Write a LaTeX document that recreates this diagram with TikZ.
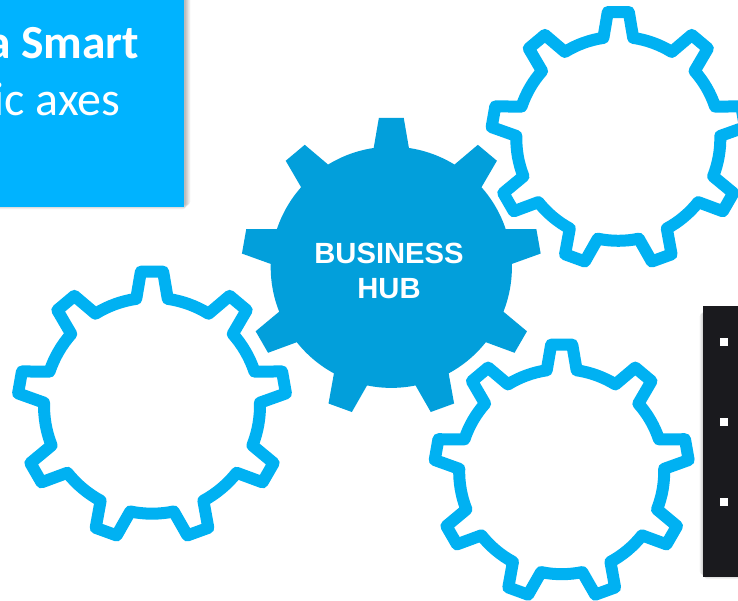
\documentclass[tikz,border=0pt]{standalone}
\usepackage{fontspec}
\setmainfont{Carlito}
\newfontfamily\hubfont{Liberation Sans}
\definecolor{gearline}{HTML}{00B1F2}
\definecolor{gearsolid}{HTML}{029FDB}
\definecolor{panelblue}{HTML}{00B3FF}
\definecolor{paneldark}{HTML}{1A1A1E}
% nine-tooth gear outline: #1 root radius, #2 tip radius
\newcommand\gearoutline[2]{(98.4:#1pt)
  \foreach \t in {90,50,...,-230} {
    -- (\t+4.75:#2pt) -- (\t-4.75:#2pt) -- (\t-8.4:#1pt)
    arc[start angle=\t-8.4,end angle=\t-31.6,radius=#1pt]
  } -- cycle}
\newcommand\softshadow[4]{%
  \foreach \g in {0,1,...,6}
    \fill[black,opacity=0.045,rounded corners=3pt]
      ({#1-\g*0.8+1.5},{#2+\g*0.8-2.5}) rectangle ({#3+\g*0.8+1.5},{#4-\g*0.8-2.5});}
\tikzset{
  hollowgear/.style={draw=gearline,line width=12pt,line join=round,fill=white},
  solidgear/.style={fill=gearsolid},
  hubtext/.style={text=white,font=\hubfont\bfseries\fontsize{29.2}{35.4}\selectfont,align=center,inner sep=0pt},
  paneltext/.style={text=white,inner sep=0pt,anchor=base east},
  squarebullet/.style={fill=white,draw=none,minimum size=8pt,inner sep=0pt}
}
\begin{document}
\begin{tikzpicture}[x=1pt,y=1pt]
\useasboundingbox (0,0) rectangle (738,601);
\begin{scope}
\clip (0,0) rectangle (738,601);
% blue panel
\softshadow{-20}{394}{184}{620}
\fill[panelblue] (-20,394) rectangle (184,620);
\node[paneltext,font=\bfseries\fontsize{47.5}{47.5}\selectfont] (smart) at (139.5,542.5) {a Smart};
\node[paneltext,font=\fontsize{48}{48}\selectfont] (axes) at (120.5,485) {ic axes};
% dark panel
\softshadow{703}{24.3}{760}{295}
\fill[paneldark] (703,24.3) rectangle (760,295);
\node[squarebullet] (b1) at (724,258.7) {};
\node[squarebullet] (b2) at (724,178.7) {};
\node[squarebullet] (b3) at (724,98.7) {};
% gears
\path[solidgear,shift={(391.3,333.7)}] \gearoutline{120.6}{150};
\path[hollowgear,shift={(152,195.3)}] \gearoutline{108}{134.5};
\path[hollowgear,shift={(618.3,462.2)}] \gearoutline{102}{127.2};
\path[hollowgear,shift={(561.7,129.3)}] \gearoutline{102.5}{127.5};
\node[hubtext] (hub) at (389,330) {BUSINESS\\HUB};
\end{scope}
\end{tikzpicture}
\end{document}
